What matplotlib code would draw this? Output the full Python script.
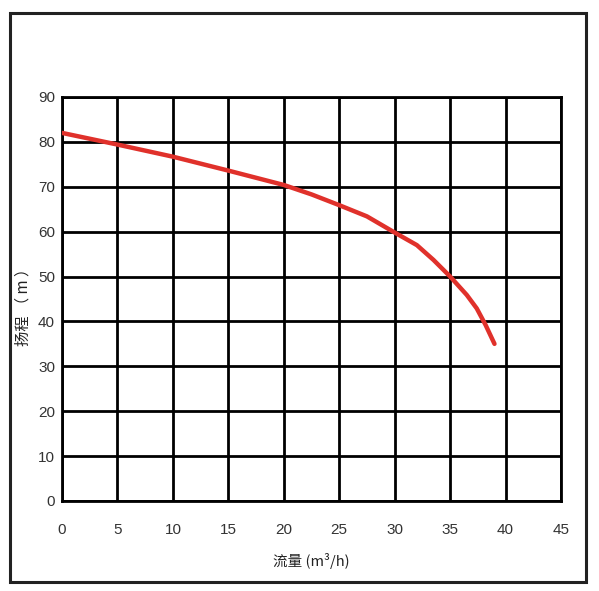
import matplotlib
matplotlib.use("Agg")
import matplotlib.pyplot as plt
from matplotlib.patches import Rectangle

# flow (m3/h) vs head (m)
flow = [0, 5, 10, 15, 20, 22.5, 25, 27.5, 30, 32, 33.5, 35, 36.5, 37.4, 38.2, 39]
head = [82, 79.4, 76.7, 73.6, 70.4, 68.3, 65.9, 63.4, 59.8, 57, 53.7, 50, 45.9, 42.9, 39.2, 35]

x_ticks = list(range(0, 46, 5))
y_ticks = list(range(0, 91, 10))

plt.rcParams['font.family'] = ['Liberation Sans', 'DejaVu Sans']


def main():
    fig = plt.figure(figsize=(5.99, 5.91), dpi=100)
    ax = fig.add_axes([0.1035, 0.1523, 0.8331, 0.6836])

    ax.plot(flow, head, color="#e0312b", lw=3.2, solid_capstyle="round",
            solid_joinstyle="round", zorder=3)

    ax.set_xlim(0, 45)
    ax.set_ylim(0, 90)
    ax.set_xticks(x_ticks)
    ax.set_yticks(y_ticks)
    ax.grid(True, color="black", lw=2.0)
    ax.set_axisbelow(True)
    for s in ax.spines.values():
        s.set_linewidth(2.0)
    ax.tick_params(length=0, labelsize=11, colors="#333333")
    ax.tick_params(axis="x", pad=16)
    ax.tick_params(axis="y", pad=5)

    cjk = ['Noto Sans CJK SC', 'DejaVu Sans']
    ax.set_xlabel("流量 (m³/h)", family=cjk, fontsize=10.5, color="#222222")
    ax.set_ylabel("扬程 （ m ）", family=cjk, fontsize=11, color="#222222")
    ax.xaxis.set_label_coords(0.5, -0.128)
    ax.yaxis.set_label_coords(-0.062, 0.49)

    # outer frame round the whole picture
    fig.patches.append(Rectangle((0.0167, 0.0152), 0.9616, 0.9628, transform=fig.transFigure,
                                 fill=False, edgecolor="#222222", lw=2.2))

    fig.savefig("out.png", dpi=100)


if __name__ == "__main__":
    main()
